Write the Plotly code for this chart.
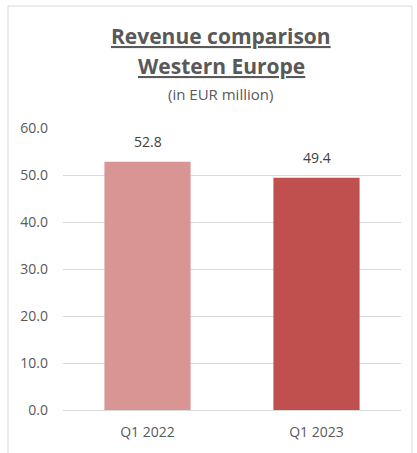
import plotly.graph_objects as go

# Revenue, Western Europe (EUR million)
quarters = ["Q1 2022", "Q1 2023"]
revenue = [52.8, 49.4]
bar_colors = ["#D99594", "#C0504D"]
tick_vals = [0, 10, 20, 30, 40, 50, 60]
tick_text = [f"{v:.1f}" for v in tick_vals]

W, H = 417, 453
L, R, T, B = 63, 16, 128, 43
pw, ph = W - L - R, H - T - B


def px_x(x):
    return (x - L) / pw


def px_y(y):
    return (H - B - y) / ph


font_main = "Open Sans"
title_color = "#595959"

fig = go.Figure(
    go.Bar(
        x=quarters,
        y=revenue,
        marker=dict(color=bar_colors, line=dict(width=0)),
        width=0.51,
        hoverinfo="x+y",
    )
)

# value labels above each bar
for q, v in zip(quarters, revenue):
    fig.add_annotation(text=f"{v:.1f}", x=q, y=v, xref="x", yref="y",
                       yanchor="bottom", yshift=9, showarrow=False,
                       font=dict(family=font_main, size=14, color="#404040"))

fig.add_annotation(text="<b><u>Revenue comparison</u></b>", x=px_x(221), y=px_y(36),
                   xref="paper", yref="paper", yanchor="middle", showarrow=False,
                   font=dict(family=font_main, size=21, color=title_color))
fig.add_annotation(text="<b><u>Western Europe</u></b>", x=px_x(221), y=px_y(66),
                   xref="paper", yref="paper", yanchor="middle", showarrow=False,
                   font=dict(family=font_main, size=21, color=title_color))
fig.add_annotation(text="(in EUR million)", x=px_x(220), y=px_y(94),
                   xref="paper", yref="paper", yanchor="middle", showarrow=False,
                   font=dict(family=font_main, size=15, color=title_color))

# light frame around the chart area
fig.add_shape(type="rect", xref="paper", yref="paper",
              x0=px_x(8), x1=px_x(412), y0=px_y(470), y1=px_y(6),
              line=dict(color="#D9D9D9", width=1), layer="below")

fig.update_layout(
    width=W, height=H,
    margin=dict(l=L, r=R, t=T, b=B),
    paper_bgcolor="white", plot_bgcolor="white",
    showlegend=False,
    font=dict(family=font_main, color="#595959"),
    xaxis=dict(showline=False, showgrid=False, ticks="", ticklabelstandoff=12,
               tickfont=dict(size=14, color="#595959")),
    yaxis=dict(range=[0, 60], tickvals=tick_vals, ticktext=tick_text,
               showgrid=True, gridcolor="#D9D9D9", gridwidth=1,
               zeroline=True, zerolinecolor="#D9D9D9", zerolinewidth=1,
               showline=False, ticks="", ticklabelstandoff=14,
               tickfont=dict(size=14, color="#595959")),
)

fig.write_html("out.html")
